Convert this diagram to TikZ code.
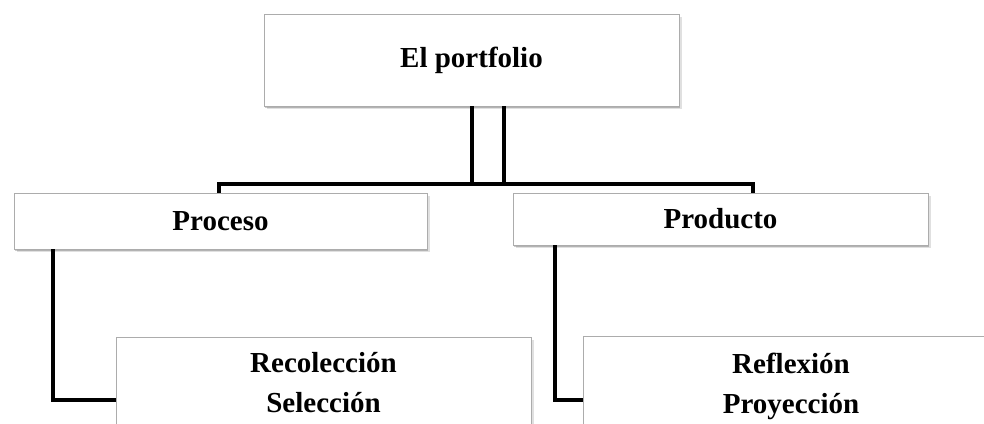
\documentclass[tikz,border=0pt]{standalone}
\usepackage{fontspec}
\setmainfont{Liberation Serif}
\usetikzlibrary{shadows}
\begin{document}
\begin{tikzpicture}[x=1pt,y=1pt,
  box/.style={draw=gray!65, line width=0.8pt, fill=white, rectangle, inner sep=0pt,
    align=center, font=\fontsize{29}{40}\selectfont\bfseries,
    drop shadow={shadow xshift=2.5pt, shadow yshift=-2.8pt, opacity=0.12, fill=black},
    drop shadow={shadow xshift=1.2pt, shadow yshift=-1.6pt, opacity=0.2, fill=black}},
  conn/.style={line width=4pt, line join=miter, draw=black}]
\useasboundingbox (0,0) rectangle (984,-423);
\clip (0,0) rectangle (984,-423);
\node[box, minimum width=415, minimum height=92] (top) at (471.5,-60) {El portfolio};
\node[box, minimum width=413, minimum height=56] (proc) at (220.5,-221) {Proceso};
\node[box, minimum width=415, minimum height=52] (prod) at (720.5,-219) {Producto};
\node[box, minimum width=415, minimum height=92] (rec) at (323.5,-383) {Recolección\\Selección};
\node[box, minimum width=416, minimum height=100] (ref) at (791,-386) {Reflexión\\Proyección};
\coordinate (busL) at (219,-184);
\coordinate (busR) at (753,-184);
\coordinate (j1) at (472,-184);
\coordinate (j2) at (504,-184);
\coordinate (e1) at (53,-400);
\coordinate (e2) at (555,-400);
\draw[conn] (proc.north -| busL) -- (busL) -- (busR) -- (prod.north -| busR);
\draw[conn] (top.south -| j1) -- (j1);
\draw[conn] (top.south -| j2) -- (j2);
\draw[conn] (proc.south -| e1) |- (rec.west |- e1);
\draw[conn] (prod.south -| e2) |- (ref.west |- e2);
\end{tikzpicture}
\end{document}
